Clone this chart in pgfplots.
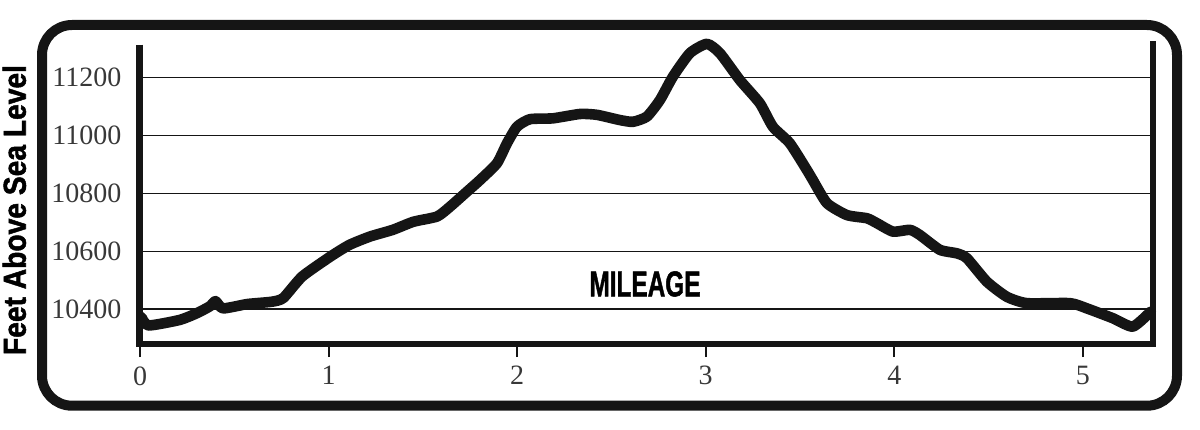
\documentclass[border=0pt]{standalone}
\usepackage{fontspec}
\setmainfont{Liberation Serif}
\setsansfont{Liberation Sans}
\newfontfamily\heavysans{Liberation Sans Bold}[FakeBold=1.6]
\usepackage{graphicx}
\usepackage{pgfplots}
\usepackage{pgfplotstable}
\pgfplotsset{compat=1.18}
\definecolor{ink}{HTML}{151515}
\pgfplotstableread{
x y
0.008 10372
0.045 10344
0.21 10363
0.30 10386
0.37 10410
0.40 10428
0.44 10403
0.57 10418
0.70 10426
0.76 10439
0.86 10513
1.01 10582
1.11 10622
1.22 10651
1.34 10674
1.45 10702
1.575 10720
1.644 10754
1.734 10806
1.803 10846
1.893 10904
1.946 10973
1.999 11030
2.068 11056
2.19 11059
2.333 11074
2.423 11071
2.545 11053
2.614 11047
2.688 11065
2.757 11122
2.826 11203
2.916 11284
3.006 11316
3.075 11284
3.181 11191
3.287 11111
3.356 11030
3.446 10973
3.537 10880
3.568 10846
3.643 10766
3.749 10725
3.855 10714
3.908 10697
3.993 10668
4.083 10674
4.136 10656
4.242 10605
4.332 10593
4.385 10576
4.491 10495
4.597 10443
4.703 10421
4.931 10421
5.021 10403
5.159 10369
5.265 10340
5.360 10392
}\elev
\begin{document}
\begin{tikzpicture}
\path[use as bounding box] (0,0) rectangle (600pt,214.5pt);
% outer rounded frame
\draw[ink, line width=5pt, rounded corners=15pt] (21pt,11.65pt) rectangle (588.5pt,202pt);
% y label
\node[rotate=90, inner sep=0pt] at (7.2pt,109.5pt)
  {\resizebox{145pt}{11.5pt}{\heavysans Feet Above Sea Level}};
% MILEAGE
\node[inner sep=0pt] at (322.5pt,72.5pt)
  {\resizebox{55.5pt}{12.5pt}{\heavysans MILEAGE}};
\begin{axis}[
  at={(69.65pt,42.5pt)}, anchor=south west,
  scale only axis, width=506.85pt, height=150.5pt,
  xmin=-0.004, xmax=5.372, ymin=10280, ymax=11319,
  clip=false,
  axis line style={draw=none},
  scaled ticks=false,
  xtick={0,1,2,3,4,5},
  ytick={10400,10600,10800,11000,11200},
  xtick pos=bottom, tick align=outside,
  ytick style={draw=none},
  xtick style={ink, line width=1pt},
  major tick length=6.5pt,
  ymajorgrids,
  grid style={ink, line width=0.75pt},
  tick label style={font=\fontsize{14}{15}\selectfont, text=ink!85},
  /pgf/number format/assume math mode=true,
  /pgf/number format/1000 sep={},
  yticklabel style={anchor=east, inner sep=0pt, xshift=-2.3pt},
  xticklabel style={anchor=north, inner sep=0pt, yshift=-4.5pt},
]
\addplot[ink, line width=5.3pt, line join=round, line cap=round, smooth, tension=0.35] table[x=x,y=y] {\elev};
\draw[ink, line width=3.2pt, line join=miter]
  (rel axis cs:0,0.995) -- (rel axis cs:0,0) -- (rel axis cs:1,0) -- (rel axis cs:1,1.007);
\end{axis}
\end{tikzpicture}
\end{document}
